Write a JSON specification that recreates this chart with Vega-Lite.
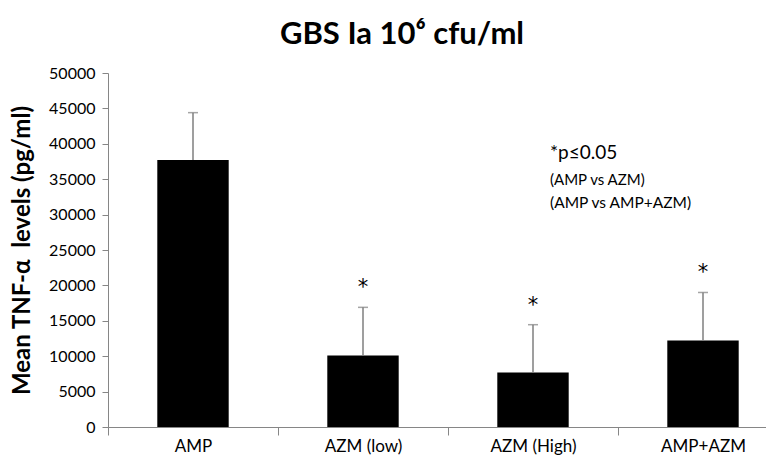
{
  "$schema": "https://vega.github.io/schema/vega-lite/v6.json",
  "autosize": {"type": "none"},
  "padding": {"left": 108, "top": 73, "right": 0, "bottom": 40},
  "width": 658,
  "height": 354,
  "background": "white",
  "title": {
    "text": "GBS Ia 10⁶ cfu/ml",
    "font": "Lato",
    "fontSize": 31,
    "fontWeight": "bold",
    "color": "#000000",
    "anchor": "middle",
    "frame": "group",
    "dx": -35,
    "offset": 14
  },
  "config": {
    "view": {"stroke": null},
    "font": "Lato",
    "axis": {"grid": false, "domainColor": "#868686", "tickColor": "#868686", "domainWidth": 1, "tickWidth": 1},
    "axisY": {
      "titleFontSize": 24,
      "titleFontWeight": "bold",
      "titleColor": "#000000",
      "titlePadding": 14,
      "labelOverlap": false,
      "labelFontSize": 16,
      "labelColor": "#000000",
      "tickSize": 6,
      "labelPadding": 7
    }
  },
  "datasets": {
    "bars": [
      {"group": "AMP", "mean": 37700, "upper": 44400, "sig": ""},
      {"group": "AZM (low)", "mean": 10100, "upper": 16900, "sig": "*"},
      {"group": "AZM (High)", "mean": 7700, "upper": 14450, "sig": "*"},
      {"group": "AMP+AZM", "mean": 12200, "upper": 19000, "sig": "*"}
    ],
    "notes": [
      {"group": "AZM (High)", "y": 38700, "label": "*p≤0.05", "size": 19},
      {"group": "AZM (High)", "y": 34900, "label": "(AMP vs AZM)", "size": 15},
      {"group": "AZM (High)", "y": 31600, "label": "(AMP vs AMP+AZM)", "size": 15.5}
    ]
  },
  "encoding": {
    "x": {
      "field": "group",
      "type": "nominal",
      "sort": ["AMP", "AZM (low)", "AZM (High)", "AMP+AZM"],
      "scale": {"range": [0, 680], "paddingInner": 0, "paddingOuter": 0},
      "axis": {"title": null, "labelAngle": 0, "labelFontSize": 17, "labelColor": "#000000", "tickBand": "extent", "tickSize": 8, "labelPadding": 3}
    }
  },
  "layer": [
    {
      "data": {"name": "bars"},
      "mark": {"type": "bar", "color": "#000000", "width": {"band": 0.42}},
      "encoding": {
        "y": {
          "field": "mean",
          "type": "quantitative",
          "scale": {"domain": [0, 50000], "nice": false},
          "axis": {"title": "Mean TNF-α\u00a0 levels (pg/ml)", "values": [0, 5000, 10000, 15000, 20000, 25000, 30000, 35000, 40000, 45000, 50000], "format": "d"}
        }
      }
    },
    {
      "data": {"name": "bars"},
      "mark": {"type": "rule", "color": "#7f7f7f", "strokeWidth": 1.5},
      "encoding": {
        "y": {"field": "mean", "type": "quantitative", "axis": {"title": "Mean TNF-α\u00a0 levels (pg/ml)", "values": [0, 5000, 10000, 15000, 20000, 25000, 30000, 35000, 40000, 45000, 50000], "format": "d"}},
        "y2": {"field": "upper"}
      }
    },
    {
      "data": {"name": "bars"},
      "mark": {"type": "tick", "color": "#7f7f7f", "thickness": 1.5, "size": 10},
      "encoding": {
        "y": {"field": "upper", "type": "quantitative", "axis": {"title": "Mean TNF-α\u00a0 levels (pg/ml)", "values": [0, 5000, 10000, 15000, 20000, 25000, 30000, 35000, 40000, 45000, 50000], "format": "d"}}
      }
    },
    {
      "data": {"name": "bars"},
      "mark": {"type": "text", "font": "DejaVu Sans", "fontSize": 21, "dy": -19, "baseline": "middle", "color": "#000000"},
      "encoding": {
        "y": {"field": "upper", "type": "quantitative", "axis": {"title": "Mean TNF-α\u00a0 levels (pg/ml)", "values": [0, 5000, 10000, 15000, 20000, 25000, 30000, 35000, 40000, 45000, 50000], "format": "d"}},
        "text": {"field": "sig"}
      }
    },
    {
      "data": {"name": "notes"},
      "mark": {"type": "text", "align": "left", "baseline": "middle", "dx": 17, "color": "#000000"},
      "encoding": {
        "y": {"field": "y", "type": "quantitative", "axis": {"title": "Mean TNF-α\u00a0 levels (pg/ml)", "values": [0, 5000, 10000, 15000, 20000, 25000, 30000, 35000, 40000, 45000, 50000], "format": "d"}},
        "text": {"field": "label"},
        "size": {"field": "size", "type": "quantitative", "scale": null, "legend": null}
      }
    }
  ]
}
